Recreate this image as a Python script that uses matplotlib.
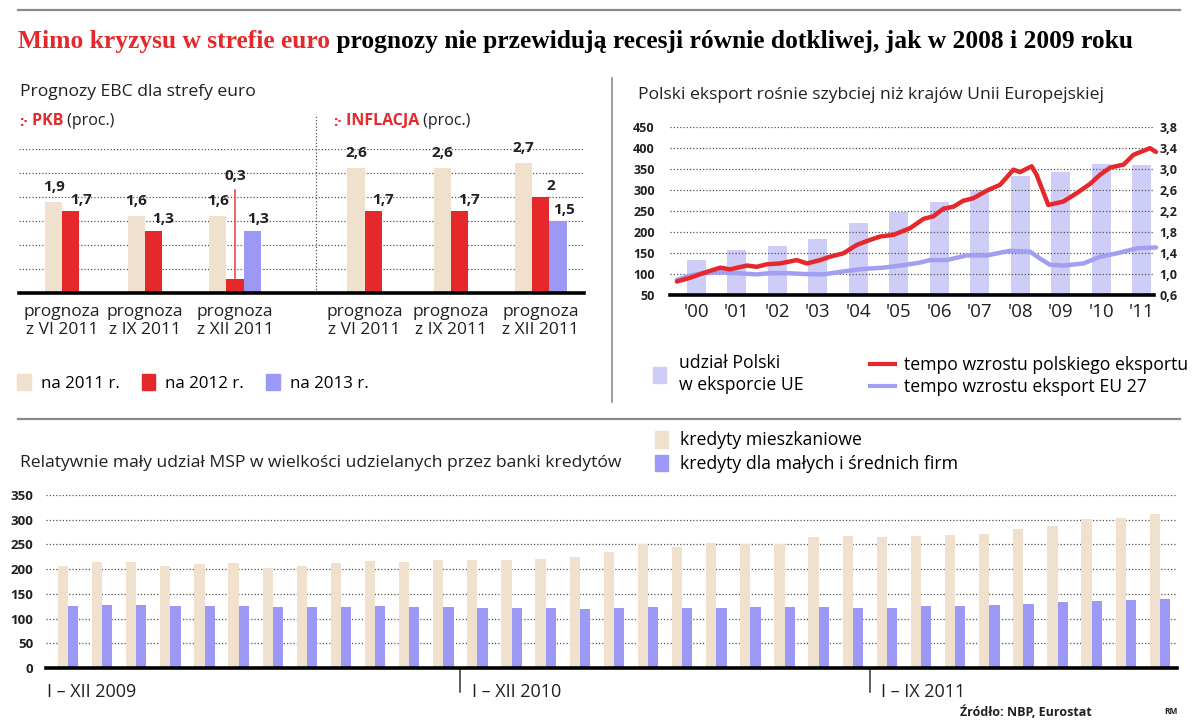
import numpy as np
import matplotlib
matplotlib.use('Agg')
import matplotlib.pyplot as plt
from matplotlib.ticker import FuncFormatter
from matplotlib.patches import Patch
from matplotlib.lines import Line2D

plt.rcParams['font.family'] = ['Open Sans', 'DejaVu Sans']

W, H = 1200, 725
RED = '#e4282b'
BEIGE = '#efe1cd'
VIOLET = '#9c98f5'
LAV_LIGHT = '#cdcdf8'
LAV_LINE = '#a29ef2'
INK = '#231f20'

# --- ECB forecasts (proc.)
forecast_labels = ['prognoza\nz VI 2011', 'prognoza\nz IX 2011', 'prognoza\nz XII 2011']
gdp_2011 = [1.9, 1.6, 1.6]
gdp_2012 = [1.7, 1.3, 0.3]
gdp_2013 = [None, None, 1.3]
cpi_2011 = [2.6, 2.6, 2.7]
cpi_2012 = [1.7, 1.7, 2.0]
cpi_2013 = [None, None, 1.5]

# --- Polish exports
export_years = [2000, 2001, 2002, 2003, 2004, 2005, 2006, 2007, 2008, 2009, 2010, 2011]
pl_share = [133, 156, 167, 183, 222, 248, 272, 300, 332, 342, 362, 360]
pl_growth_t = [2000.02, 2000.35, 2000.67, 2001.09, 2001.33, 2001.75, 2001.99, 2002.24, 2002.57,
               2002.98, 2003.23, 2003.56, 2003.80, 2004.13, 2004.46, 2004.79, 2005.04, 2005.37,
               2005.78, 2006.11, 2006.35, 2006.60, 2006.85, 2007.09, 2007.34, 2007.67, 2008.00,
               2008.33, 2008.49, 2008.78, 2008.90, 2009.19, 2009.56, 2009.89, 2010.22, 2010.47,
               2010.72, 2011.05, 2011.29, 2011.70, 2011.85]
pl_growth = [82, 91, 102, 115, 111, 120, 117, 123, 125, 133, 125, 133, 141, 149, 169, 181, 189, 193,
             209, 231, 237, 255, 260, 274, 280, 298, 312, 348, 342, 356, 336, 264, 272, 292, 314, 336,
             353, 360, 383, 399, 390]
eu_growth_t = [2000.02, 2000.35, 2000.67, 2001.09, 2001.50, 2001.99, 2002.32, 2002.73, 2003.15,
               2003.64, 2004.13, 2004.63, 2005.12, 2005.62, 2006.02, 2006.27, 2006.68, 2007.17,
               2007.67, 2008.24, 2008.74, 2008.98, 2009.23, 2009.56, 2010.06, 2010.47, 2010.88,
               2011.38, 2011.85]
eu_growth = [86, 96, 102, 104, 102, 99, 102, 102, 100, 99, 106, 112, 115, 121, 127, 133, 133, 144,
             144, 155, 153, 137, 122, 120, 125, 141, 149, 161, 163]

# --- bank loans
periods = ['I – XII 2009', 'I – XII 2010', 'I – IX 2011']
period_months = [12, 12, 9]
housing = [207, 214, 214, 207, 211, 212, 203, 207, 213, 216, 215, 218, 219, 219, 220, 224, 234,
           251, 244, 253, 251, 251, 265, 268, 265, 268, 270, 271, 281, 287, 301, 304, 312]
sme = [125, 128, 127, 125, 126, 125, 123, 124, 124, 125, 124, 123, 122, 122, 121, 120, 121, 123,
       122, 121, 123, 123, 123, 121, 121, 125, 126, 128, 129, 133, 135, 137, 139]


def box(x0, y0, x1, y1):
    return [x0 / W, 1 - y1 / H, (x1 - x0) / W, (y1 - y0) / H]


def comma(v):
    return f'{v:g}'.replace('.', ',')


def dotted_grid(ax):
    ax.yaxis.grid(True, linestyle=(0, (1, 1.6)), color='#555555', linewidth=0.9)
    for s in ['left', 'right', 'top']:
        ax.spines[s].set_visible(False)
    ax.spines['bottom'].set_linewidth(2.6)
    ax.spines['bottom'].set_color('black')


fig = plt.figure(figsize=(W / 100, H / 100), dpi=100)

# ---------------- ECB forecasts
ax1 = fig.add_axes(box(19, 149, 584, 293))
group_x = np.array([2.0, 6.8, 11.5, 19.5, 24.5, 29.2])
v11 = gdp_2011 + cpi_2011
v12 = gdp_2012 + cpi_2012
v13 = gdp_2013 + cpi_2013
ax1.bar(group_x, v11, width=1.0, color=BEIGE, zorder=2)
ax1.bar(group_x + 1, v12, width=1.0, color=RED, zorder=2)
x13 = [x + 2 for x, v in zip(group_x, v13) if v is not None]
y13 = [v for v in v13 if v is not None]
ax1.bar(x13, y13, width=1.0, color=VIOLET, zorder=2)

lab_kw = dict(textcoords='offset points', ha='center', va='center', fontsize=11,
              fontweight='bold', color=INK)
for x, v in zip(group_x, v11):
    ax1.annotate(comma(v), (x, v), xytext=(0, 11), **lab_kw)
for x, v in zip(group_x + 1, v12):
    if v < 0.5:
        ax1.annotate(comma(v), (x, v), xytext=(0, 74), arrowprops=dict(arrowstyle='-', color=RED, lw=1,
                     shrinkA=3, shrinkB=0), **lab_kw)
    else:
        ax1.annotate(comma(v), (x, v), xytext=(7, 8), **lab_kw)
for x, v in zip(x13, y13):
    ax1.annotate(comma(v), (x, v), xytext=(4, 8), **lab_kw)

group_sizes = [2, 2, 3, 2, 2, 3]
for x, n, lab in zip(group_x, group_sizes, forecast_labels * 2):
    ax1.annotate(lab, (x + (n - 1) / 2, 0), xytext=(0, -8), textcoords='offset points',
                 ha='center', va='top', fontsize=12.5, color=INK, linespacing=1.15)

ax1.set_xlim(0, 32.7)
ax1.set_ylim(0, 3.0)
ax1.set_yticks([0.5, 1.0, 1.5, 2.0, 2.5, 3.0])
ax1.set_xticks([])
ax1.tick_params(axis='y', length=0, labelleft=False)
ax1.set_axisbelow(True)
dotted_grid(ax1)
ax1.axvline(17.2, ymin=0, ymax=1.24, linestyle=(0, (1, 1.6)), color='#555555', lw=0.9, clip_on=False)
ax1.patch.set_alpha(0)

# ---------------- exports
ax2 = fig.add_axes(box(670, 126.7, 1154, 295))
yrs = np.array(export_years)
ax2.bar(yrs + 0.5, pl_share, width=0.47, color=LAV_LIGHT, zorder=1)
ax2.plot(eu_growth_t, eu_growth, color=LAV_LINE, lw=3.2, zorder=3, clip_on=False,
         solid_capstyle='round')
ax2.plot(pl_growth_t, pl_growth, color=RED, lw=3.2, zorder=4, clip_on=False,
         solid_capstyle='round')
ax2.set_xlim(1999.85, 2011.8)
ax2.set_ylim(50, 450)
ax2.set_yticks(range(50, 451, 50))
ax2.set_xticks(yrs + 0.5)
ax2.set_xticklabels(["'" + str(y)[2:] for y in export_years], fontsize=13.5, color=INK)
ax2.tick_params(axis='x', length=0, pad=6)
ax2.tick_params(axis='y', length=0, pad=11, labelsize=9, labelcolor=INK)
for t in ax2.get_yticklabels():
    t.set_fontweight('bold')
dotted_grid(ax2)
ax2.patch.set_alpha(0)

ax2r = ax2.twinx()
ax2r.set_ylim(0.6, 3.8)
ax2r.set_yticks(np.arange(0.6, 3.81, 0.4))
ax2r.yaxis.set_major_formatter(FuncFormatter(lambda v, p: f'{v:.1f}'.replace('.', ',')))
ax2r.tick_params(axis='y', length=0, pad=4, labelsize=9, labelcolor=INK)
for t in ax2r.get_yticklabels():
    t.set_fontweight('bold')
for s in ax2r.spines.values():
    s.set_visible(False)

# ---------------- loans
ax3 = fig.add_axes(box(46, 495, 1177, 668))
idx = np.arange(len(housing))
ax3.bar(idx - 0.15, housing, width=0.3, color=BEIGE, zorder=2)
ax3.bar(idx + 0.15, sme, width=0.3, color=VIOLET, zorder=2)
ax3.set_xlim(-0.645, 32.5)
ax3.set_ylim(0, 350)
ax3.set_yticks(range(0, 351, 50))
ax3.set_xticks([])
ax3.tick_params(axis='y', length=0, pad=9, labelsize=9.5, labelcolor=INK)
for t in ax3.get_yticklabels():
    t.set_fontweight('bold')
ax3.set_axisbelow(True)
dotted_grid(ax3)
ax3.patch.set_alpha(0)

starts = np.concatenate([[0], np.cumsum(period_months)[:-1]])
for k, (s, lab) in enumerate(zip(starts, periods)):
    if k == 0:
        ax3.annotate(lab, (-0.645, 0), xytext=(1, -17), textcoords='offset points',
                     ha='left', va='center', fontsize=13, color=INK)
    else:
        sep = s - 0.5
        ax3.axvline(sep, ymin=-0.14, ymax=0, color='#333333', lw=1.1, clip_on=False)
        ax3.annotate(lab, (sep, 0), xytext=(8, -17), textcoords='offset points',
                     ha='left', va='center', fontsize=13, color=INK)

# ---------------- overlay: titles, legends, rules
ov = fig.add_axes([0, 0, 1, 1])
ov.set_xlim(0, W)
ov.set_ylim(H, 0)
ov.axis('off')

ov.plot([18, 1180], [10, 10], color='#8a8a8a', lw=1.6)
ov.plot([18, 1180], [419, 419], color='#8a8a8a', lw=1.6)
ov.plot([612, 612], [78, 402], color='#8a8a8a', lw=1.2)

t1 = ov.text(18, 41, 'Mimo kryzysu w strefie euro', color=RED, fontsize=18.4, fontweight='bold',
             family='Liberation Serif', va='center', ha='left')
ov.annotate(' prognozy nie przewidują recesji równie dotkliwej, jak w 2008 i 2009 roku',
            xy=(1, 0), xycoords=t1, va='bottom', ha='left', color='black', fontsize=18.4,
            fontweight='bold', family='Liberation Serif')

ov.text(20, 92, 'Prognozy EBC dla strefy euro', fontsize=12.6, color=INK, va='center')
ov.text(638, 95, 'Polski eksport rośnie szybciej niż krajów Unii Europejskiej', fontsize=12.6,
        color=INK, va='center')
ov.text(20, 463, 'Relatywnie mały udział MSP w wielkości udzielanych przez banki kredytów',
        fontsize=12.6, color=INK, va='center')

for x0, word in [(19, 'PKB'), (333, 'INFLACJA')]:
    m = ov.text(x0, 122, ':·', color=RED, fontsize=11, fontweight='bold', va='center')
    w = ov.annotate(' ' + word, xy=(1, 0), xycoords=m, va='bottom', ha='left', color=RED,
                    fontsize=11.5, fontweight='bold')
    ov.annotate(' (proc.)', xy=(1, 0), xycoords=w, va='bottom', ha='left', color=INK,
                fontsize=11.5)

leg1 = ov.legend([Patch(color=BEIGE), Patch(color=RED), Patch(color=VIOLET)],
                 ['na 2011 r.', 'na 2012 r.', 'na 2013 r.'], ncol=3, loc='center left',
                 bbox_to_anchor=(17, 383), bbox_transform=ov.transData, frameon=False,
                 fontsize=12.2, handlelength=0.8, handleheight=1.1, handletextpad=0.6,
                 columnspacing=1.3, borderpad=0, borderaxespad=0)
ov.add_artist(leg1)

leg2 = ov.legend([Patch(color=LAV_LIGHT)], ['udział Polski\nw eksporcie UE'], loc='center left',
                 bbox_to_anchor=(653, 374), bbox_transform=ov.transData, frameon=False,
                 fontsize=12.7, handlelength=0.75, handleheight=1.05, handletextpad=0.7,
                 borderpad=0, borderaxespad=0)
ov.add_artist(leg2)
for t in leg2.get_texts():
    t.set_linespacing(1.25)

leg3 = ov.legend([Line2D([], [], color=RED, lw=3), Line2D([], [], color=LAV_LINE, lw=3)],
                 ['tempo wzrostu polskiego eksportu', 'tempo wzrostu eksport EU 27'],
                 loc='center left', bbox_to_anchor=(870, 376), bbox_transform=ov.transData,
                 frameon=False, fontsize=12.7, handlelength=1.4, handletextpad=0.55,
                 labelspacing=0.2, borderpad=0, borderaxespad=0)
ov.add_artist(leg3)

ov.legend([Patch(color=BEIGE), Patch(color=VIOLET)],
          ['kredyty mieszkaniowe', 'kredyty dla małych i średnich firm'], loc='center left',
          bbox_to_anchor=(655, 452), bbox_transform=ov.transData, frameon=False, fontsize=12.7,
          handlelength=0.75, handleheight=1.05, handletextpad=0.65, labelspacing=0.3,
          borderpad=0, borderaxespad=0)

ov.text(1092, 712, 'Źródło: NBP, Eurostat', ha='right', va='center', fontsize=9,
        fontweight='bold', color=INK)
ov.text(1178, 712, 'RM', ha='right', va='center', fontsize=6, fontweight='bold', color=INK)

fig.savefig('out.png', dpi=100)
